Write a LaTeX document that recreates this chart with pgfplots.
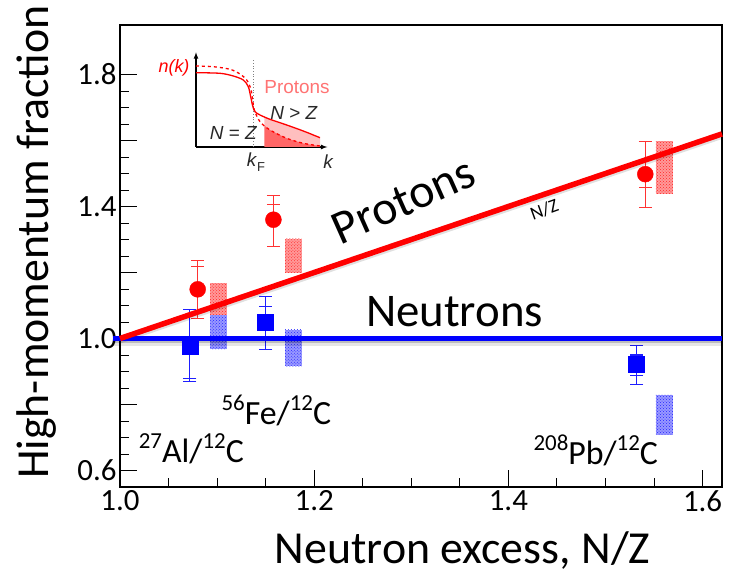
\documentclass[border=0pt]{standalone}
\usepackage{fontspec}
\setmainfont{Carlito}
\newfontfamily\arialfont{Liberation Sans}
\usepackage{pgfplots}
\pgfplotsset{compat=1.18}
\usetikzlibrary{patterns,calc}

\definecolor{pred}{RGB}{255,0,0}
\definecolor{nblue}{RGB}{0,0,255}
\definecolor{ebred}{RGB}{255,50,50}
\definecolor{ebblue}{RGB}{30,30,255}
\definecolor{txtgray}{RGB}{40,40,40}

\newcommand{\sups}[1]{\raisebox{0.42em}{\fontsize{23}{23}\selectfont #1}}

\begin{document}
\begin{tikzpicture}
\begin{axis}[
  name=main,
  scale only axis,
  width=602bp, height=462bp,
  xmin=1.0, xmax=1.62, ymin=0.55, ymax=1.95,
  xtick={1.0,1.2,1.4,1.6},
  xticklabels={1.0,1.2,1.4,1.6},
  minor x tick num=3,
  ytick={0.6,0.8,1.0,1.2,1.4,1.6,1.8},
  yticklabels={0.6,,1.0,,1.4,,1.8},
  minor y tick num=3,
  tick align=inside,
  tick pos=left,
  major tick length=17bp, minor tick length=9bp,
  tick style={black, line width=0.9bp},
  axis line style={line width=1.3bp},
  tick label style={font=\fontsize{31}{31}\selectfont},
  label style={font=\fontsize{46}{46}\selectfont},
  xlabel={Neutron excess, N/Z},
  ylabel={High-momentum fraction},
  xlabel style={at={(axis description cs:0.569,-0.165)}, anchor=base},
  ylabel style={at={(axis description cs:-0.138,0.53)}, anchor=center},
  clip=false,
]
% theory bands
\addplot[draw=none, fill=red!40, postaction={pattern=crosshatch dots, pattern color=red!85}, forget plot]
  coordinates {(1.0925,1.070)(1.110,1.070)(1.110,1.168)(1.0925,1.168)} -- cycle;
\addplot[draw=none, fill=red!40, postaction={pattern=crosshatch dots, pattern color=red!85}, forget plot]
  coordinates {(1.170,1.199)(1.187,1.199)(1.187,1.302)(1.170,1.302)} -- cycle;
\addplot[draw=none, fill=red!40, postaction={pattern=crosshatch dots, pattern color=red!85}, forget plot]
  coordinates {(1.552,1.438)(1.570,1.438)(1.570,1.597)(1.552,1.597)} -- cycle;
\addplot[draw=none, fill=blue!40, postaction={pattern=crosshatch dots, pattern color=blue!85}, forget plot]
  coordinates {(1.0925,0.967)(1.110,0.967)(1.110,1.070)(1.0925,1.070)} -- cycle;
\addplot[draw=none, fill=blue!40, postaction={pattern=crosshatch dots, pattern color=blue!85}, forget plot]
  coordinates {(1.170,0.916)(1.187,0.916)(1.187,1.027)(1.170,1.027)} -- cycle;
\addplot[draw=none, fill=blue!40, postaction={pattern=crosshatch dots, pattern color=blue!85}, forget plot]
  coordinates {(1.552,0.708)(1.570,0.708)(1.570,0.829)(1.552,0.829)} -- cycle;

% inner error caps (protons)
\addplot[draw=none, mark=none, forget plot,
  error bars/.cd, y dir=both, y explicit,
  error bar style={ebred, line width=1.1bp},
  error mark options={rotate=90, ebred, mark size=6.5bp, line width=1.1bp}]
  coordinates {
    (1.080,1.149) += (0,0.070) -= (0,0.088)
    (1.158,1.360) += (0,0.045) -= (0,0.080)
    (1.541,1.498) += (0,0.099) -= (0,0.040)
  };
% protons with total errors
\addplot[only marks, mark=*, mark size=8bp, color=pred, forget plot,
  error bars/.cd, y dir=both, y explicit,
  error bar style={ebred, line width=1.1bp},
  error mark options={rotate=90, ebred, mark size=6.5bp, line width=1.1bp}]
  coordinates {
    (1.080,1.149) += (0,0.088) -= (0,0.088)
    (1.158,1.360) += (0,0.073) -= (0,0.080)
    (1.541,1.498) += (0,0.099) -= (0,0.100)
  };
% inner error caps (neutrons)
\addplot[draw=none, mark=none, forget plot,
  error bars/.cd, y dir=both, y explicit,
  error bar style={ebblue, line width=1.1bp},
  error mark options={rotate=90, ebblue, mark size=6.5bp, line width=1.1bp}]
  coordinates {
    (1.072,0.977) += (0,0.111) -= (0,0.097)
    (1.150,1.048) += (0,0.050) -= (0,0.081)
    (1.532,0.921) += (0,0.029) -= (0,0.032)
  };
% neutrons with total errors
\addplot[only marks, mark=square*, mark size=8bp, color=nblue, forget plot,
  error bars/.cd, y dir=both, y explicit,
  error bar style={ebblue, line width=1.1bp},
  error mark options={rotate=90, ebblue, mark size=6.5bp, line width=1.1bp}]
  coordinates {
    (1.072,0.977) += (0,0.111) -= (0,0.106)
    (1.150,1.048) += (0,0.078) -= (0,0.081)
    (1.532,0.921) += (0,0.057) -= (0,0.060)
  };

% shadows of the lines
\addplot[black, opacity=0.18, line width=5bp, yshift=-2.5bp, forget plot] coordinates {(0.993,1.0)(1.62,1.0)};
\addplot[black, opacity=0.10, line width=5bp, yshift=-5bp, forget plot] coordinates {(0.993,1.0)(1.62,1.0)};
\addplot[black, opacity=0.12, line width=5bp, yshift=-2.5bp, forget plot] coordinates {(1.0,1.0)(1.62,1.62)};
% N/Z and flat lines
\addplot[nblue, line width=5bp, forget plot] coordinates {(0.993,1.0)(1.62,1.0)};
\addplot[pred, line width=5.5bp, forget plot] coordinates {(1.0,1.0)(1.62,1.62)};

\node[rotate=24, font=\fontsize{48}{48}\selectfont] at (axis cs:1.292,1.418) {Protons};
\node[rotate=20, font=\fontsize{19}{19}\selectfont] at (axis cs:1.437,1.390) {N/Z};
\node[anchor=base, font=\fontsize{47}{47}\selectfont] at (axis cs:1.3445,1.035) {Neutrons};
\node[anchor=base, font=\fontsize{34}{34}\selectfont] at (axis cs:1.161,0.738) {\sups{56}Fe/\sups{12}C};
\node[anchor=base, font=\fontsize{34}{34}\selectfont] at (axis cs:1.0735,0.624) {\sups{27}Al/\sups{12}C};
\node[anchor=base, font=\fontsize{34}{34}\selectfont] at (axis cs:1.490,0.617) {\sups{208}Pb/\sups{12}C};
\end{axis}

% inset schematic n(k)
\begin{axis}[
  at={($(main.south west)+(76bp,340bp)$)}, anchor=south west,
  scale only axis,
  width=131.3bp, height=94.7bp,
  xmin=0, xmax=131.3, ymin=0, ymax=94.7,
  axis lines=left,
  axis line style={-latex, line width=1.2bp},
  xtick=\empty, ytick=\empty,
  clip=false,
]
\addplot[draw=none, fill=red!25] coordinates {
  (68.3,30.2)(74,27.7)(90.7,22)(107.3,16)(124,9.3)
  (124,1)(107.3,3.7)(90.7,8.7)(74,17)(68.3,21.7)} -- cycle;
\addplot[draw=none, fill=red!60] coordinates {
  (68.3,0)(68.3,21.7)(74,17)(90.7,8.7)(107.3,3.7)(124,1)(124,0)} -- cycle;
\addplot[gray, dotted, line width=0.7bp] coordinates {(57.3,0)(57.3,87.7)};
\addplot[red, line width=1.3bp, smooth] coordinates {
  (0,74.3)(24,73.7)(37.3,71)(47.3,67)(52.3,60.3)(54.7,50.3)(56.7,41)
  (59,35.3)(64,32)(74,27.7)(90.7,22)(107.3,16)(124,9.3)};
\addplot[red, line width=1.3bp, dashed, smooth] coordinates {
  (0,81)(17.3,80.3)(34,77.7)(44,73)(50.7,67)(54.7,58.7)(56.7,47)
  (58.3,37)(64,25.3)(74,17)(90.7,8.7)(107.3,3.7)(124,1)};
\node[red, font=\arialfont\itshape\fontsize{18}{18}\selectfont] at (axis cs:-22,79) {n(k)};
\node[red!55, font=\arialfont\fontsize{19}{19}\selectfont] at (axis cs:101,60) {Protons};
\node[txtgray, font=\arialfont\fontsize{19}{19}\selectfont] at (axis cs:98,34) {\textit{N} > \textit{Z}};
\node[txtgray, font=\arialfont\fontsize{19}{19}\selectfont] at (axis cs:37.5,14) {\textit{N} = \textit{Z}};
\node[txtgray, font=\arialfont\fontsize{19}{19}\selectfont] at (axis cs:60,-15) {\textit{k}\raisebox{-0.25em}{\fontsize{13}{13}\selectfont F}};
\node[txtgray, font=\arialfont\itshape\fontsize{19}{19}\selectfont] at (axis cs:132,-15) {k};
\end{axis}

\pgfresetboundingbox
\path ($(main.south west)+(-120bp,-89bp)$) rectangle ++(733bp,576bp);
\end{tikzpicture}
\end{document}
